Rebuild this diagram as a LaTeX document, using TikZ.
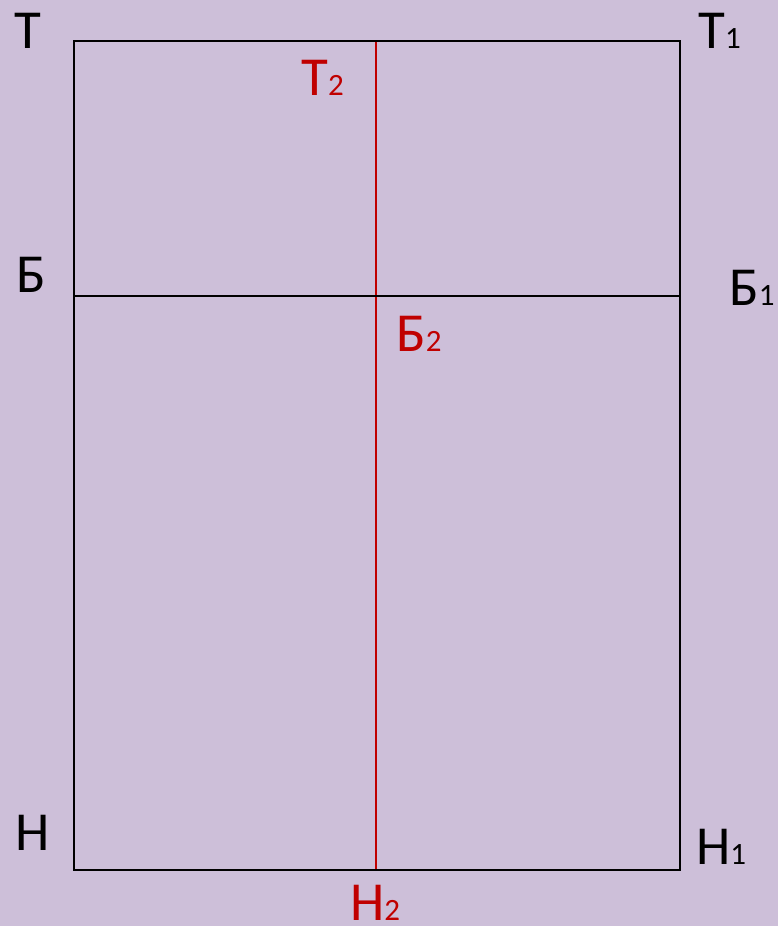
\documentclass[tikz,border=0pt]{standalone}
\usepackage{fontspec}
\setmainfont{Carlito}
\usetikzlibrary{positioning}
\definecolor{lavender}{HTML}{CDBFD9}
\definecolor{darkred}{HTML}{C00000}
\newcommand{\idx}[1]{{\fontsize{31}{31}\selectfont #1}}
\tikzset{lbl/.style={anchor=base west, inner sep=0pt, font=\fontsize{55}{55}\selectfont},
redlbl/.style={lbl, text=darkred},
frame/.style={line width=2pt, black},
midline/.style={line width=2pt, darkred}}

\begin{document}
\begin{tikzpicture}[x=1pt, y=-1pt]
	\fill[lavender] (0,0) rectangle (778,926);
	\useasboundingbox (0,0) rectangle (778,926);

	% corners and points
	\coordinate (T) at (74,41);
	\coordinate (T1) at (680,41);
	\coordinate (B) at (74,296);
	\coordinate (B1) at (680,296);
	\coordinate (H) at (74,870);
	\coordinate (H1) at (680,870);
	\coordinate (T2) at (376,41);
	\coordinate (H2) at (376,870);

	\draw[midline] (T2) -- (H2);
	\draw[frame] (T) -- (T1) -- (H1) -- (H) -- cycle;
	\draw[frame] (B) -- (B1);

	% labels
	\node[lbl] (lT) at (14,48) {Т};
	\node[lbl] (lT1) at (698,48) {Т\idx{1}};
	\node[lbl] (lB) at (16,292) {Б};
	\node[lbl] (lB1) at (729,305) {Б\idx{1}};
	\node[lbl] (lH) at (15,850) {Н};
	\node[lbl] (lH1) at (696,864) {Н\idx{1}};
	\node[redlbl] (lT2) at (301,95) {Т\idx{2}};
	\node[redlbl] (lB2) at (396,351) {Б\idx{2}};
	\node[redlbl] (lH2) at (350,920) {Н\idx{2}};
\end{tikzpicture}
\end{document}
